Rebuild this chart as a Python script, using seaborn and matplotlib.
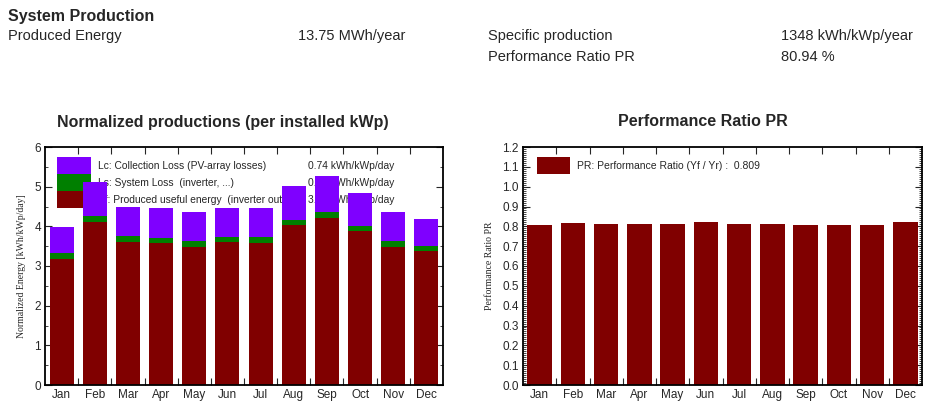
import matplotlib
matplotlib.use("Agg")
import matplotlib.pyplot as plt
from matplotlib.patches import Rectangle
from matplotlib.ticker import MultipleLocator, FixedLocator, NullFormatter, FormatStrFormatter
import seaborn as sns
import pandas as pd
import numpy as np

months = ["Jan", "Feb", "Mar", "Apr", "May", "Jun", "Jul", "Aug", "Sep", "Oct", "Nov", "Dec"]
yf = [3.18, 4.12, 3.61, 3.59, 3.49, 3.61, 3.59, 4.03, 4.22, 3.87, 3.48, 3.39]
ls = [0.14, 0.15, 0.14, 0.11, 0.13, 0.11, 0.14, 0.14, 0.13, 0.13, 0.14, 0.12]
lc = [0.66, 0.84, 0.75, 0.77, 0.73, 0.73, 0.74, 0.84, 0.93, 0.84, 0.73, 0.67]
pr = [0.806, 0.816, 0.811, 0.811, 0.811, 0.820, 0.811, 0.811, 0.808, 0.808, 0.806, 0.822]

legend_left = [
    ("Lc: Collection Loss (PV-array losses)", "0.74 kWh/kWp/day"),
    ("Ls: System Loss  (inverter, ...)", "0.13 kWh/kWp/day"),
    ("Yf: Produced useful energy  (inverter output)", "3.69 kWh/kWp/day"),
]
legend_right = "PR: Performance Ratio (Yf / Yr) :  0.809"

C_LC = "#7F00FF"
C_LS = "#007F00"
C_YF = "#800000"

sns.set_style("ticks")
SANS = ["Liberation Sans", "DejaVu Sans"]
SERIF = ["Liberation Serif", "DejaVu Serif"]
plt.rcParams["font.family"] = SANS

df = pd.DataFrame({"month": months, "yf": yf, "ls": ls, "lc": lc, "pr": pr})
df["yf_ls"] = df["yf"] + df["ls"]
df["total"] = df["yf_ls"] + df["lc"]

W, H = 932, 403
fig = plt.figure(figsize=(W / 100, H / 100), dpi=100)
fig.patch.set_facecolor("white")

def fx(px):
    return px / W

def fy(py):
    return 1 - py / H

# header texts
fs = 10.5
fig.text(fx(8), fy(16), "System Production", fontsize=11.5, fontweight="bold", family=SANS,
         va="center", ha="left")
fig.text(fx(8), fy(36), "Produced Energy", fontsize=fs, family=SANS, va="center", ha="left")
fig.text(fx(298), fy(36), "13.75 MWh/year", fontsize=fs, family=SANS, va="center", ha="left")
fig.text(fx(488), fy(36), "Specific production", fontsize=fs, family=SANS, va="center", ha="left")
fig.text(fx(781), fy(36), "1348 kWh/kWp/year", fontsize=fs, family=SANS, va="center", ha="left")
fig.text(fx(488), fy(57), "Performance Ratio PR", fontsize=fs, family=SANS, va="center", ha="left")
fig.text(fx(781), fy(57), "80.94 %", fontsize=fs, family=SANS, va="center", ha="left")

fig.text(fx(223), fy(122), "Normalized productions (per installed kWp)", fontsize=11.5,
         fontweight="bold", family=SANS, va="center", ha="center")
fig.text(fx(703), fy(122), "Performance Ratio PR", fontsize=11.5,
         fontweight="bold", family=SANS, va="center", ha="center")

ax1 = fig.add_axes([fx(45), fy(385), fx(443) - fx(45), fy(147) - fy(385)])
ax2 = fig.add_axes([fx(523), fy(385), fx(922) - fx(523), fy(147) - fy(385)])

bw = 0.72
sns.barplot(data=df, x="month", y="total", order=months, color=C_LC, saturation=1,
            width=bw, ax=ax1, zorder=2, linewidth=0)
sns.barplot(data=df, x="month", y="yf_ls", order=months, color=C_LS, saturation=1,
            width=bw, ax=ax1, zorder=2, linewidth=0)
sns.barplot(data=df, x="month", y="yf", order=months, color=C_YF, saturation=1,
            width=bw, ax=ax1, zorder=2, linewidth=0)

sns.barplot(data=df, x="month", y="pr", order=months, color=C_YF, saturation=1,
            width=0.73, ax=ax2, zorder=2, linewidth=0)

def style_axes(ax, ymax, ymaj, ymin, ylabel):
    ax.set_xlim(-0.5, len(months) - 0.5)
    ax.set_ylim(0, ymax)
    ax.set_xlabel("")
    ax.set_ylabel(ylabel, family=SERIF, fontsize=7, labelpad=6)
    ax.yaxis.set_major_locator(MultipleLocator(ymaj))
    ax.yaxis.set_minor_locator(MultipleLocator(ymin))
    ax.xaxis.set_minor_locator(FixedLocator(np.arange(0.5, len(months) - 1, 1.0)))
    ax.xaxis.set_minor_formatter(NullFormatter())
    ax.tick_params(axis="x", which="major", length=0, labelsize=8.5, pad=3)
    ax.tick_params(axis="x", which="minor", direction="in", length=5, width=0.8,
                   top=True, bottom=True)
    ax.tick_params(axis="y", which="major", direction="in", length=5, width=0.8,
                   left=True, right=True, labelsize=8.5, pad=3)
    ax.tick_params(axis="y", which="minor", direction="in", length=2.5, width=0.6,
                   left=True, right=True)
    for sp in ax.spines.values():
        sp.set_visible(True)
        sp.set_linewidth(1.3)
        sp.set_color("black")
    ax.set_facecolor("white")
    ax.grid(False)

style_axes(ax1, 6, 1, 0.5, "Normalized Energy [kWh/kWp/day]")
style_axes(ax2, 1.2, 0.1, 0.01, "Performance Ratio PR")
ax2.yaxis.set_major_formatter(FormatStrFormatter("%.1f"))

def axx(ax_left, ax_right, px):
    return (px - ax_left) / (ax_right - ax_left)

def axy(py):
    return (385 - py) / (385 - 147)

# left legend (drawn behind bars)
lx0 = axx(45, 443, 57)
lx1 = axx(45, 443, 91)
tops = [157, 174, 191]
colors = [C_LC, C_LS, C_YF]
for (lab, val), t, c in zip(legend_left, tops, colors):
    ax1.add_patch(Rectangle((lx0, axy(t + 16.7)), lx1 - lx0, axy(t) - axy(t + 16.7),
                            transform=ax1.transAxes, facecolor=c, edgecolor="none", zorder=1))
    yc = axy(t + 9)
    ax1.text(axx(45, 443, 98), yc, lab, transform=ax1.transAxes, fontsize=7.4,
             va="center", ha="left", zorder=1)
    ax1.text(axx(45, 443, 308), yc, val, transform=ax1.transAxes, fontsize=7.4,
             va="center", ha="left", zorder=1)

rx0 = axx(523, 922, 537)
rx1 = axx(523, 922, 570)
ax2.add_patch(Rectangle((rx0, axy(174)), rx1 - rx0, axy(157) - axy(174),
                        transform=ax2.transAxes, facecolor=C_YF, edgecolor="none", zorder=1))
ax2.text(axx(523, 922, 577), axy(166), legend_right, transform=ax2.transAxes, fontsize=7.5,
         va="center", ha="left", zorder=1)

fig.savefig("out.png", dpi=100, facecolor="white")
